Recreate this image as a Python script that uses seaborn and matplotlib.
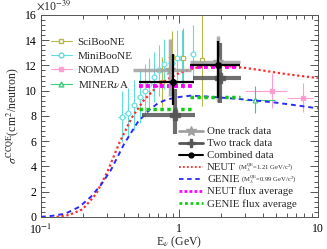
import numpy as np
import pandas as pd
import matplotlib
matplotlib.use('Agg')
import matplotlib.pyplot as plt
from matplotlib.lines import Line2D
from matplotlib.ticker import FixedLocator, MultipleLocator, LogLocator, NullFormatter
import seaborn as sns

# cross sections in units of 1e-39 cm^2/neutron, energies in GeV
neut_e = [0.13, 0.16, 0.2, 0.25, 0.3, 0.37, 0.45, 0.55, 0.7, 0.85, 1.0, 1.3, 1.7, 2.2, 3.0, 4.0, 6.0, 10.0]
neut_xs = [0.0, 0.15, 0.6, 1.8, 3.5, 5.9, 7.8, 9.2, 10.4, 11.0, 11.4, 11.8, 12.0, 11.95, 11.8, 11.6, 11.3, 11.0]
genie_e = [0.1, 0.12, 0.15, 0.19, 0.23, 0.27, 0.32, 0.4, 0.5, 0.61, 0.7, 0.81, 1.0, 1.2, 1.5, 2.0, 3.0, 5.0, 7.4, 10.0]
genie_xs = [0.0, 0.08, 0.25, 0.8, 1.6, 2.5, 3.7, 5.8, 7.5, 8.5, 9.0, 9.3, 9.5, 9.6, 9.55, 9.45, 9.3, 9.05, 8.8, 8.6]

mb_e = [0.385, 0.425, 0.47, 0.52, 0.565, 0.605, 0.655, 0.71, 0.77, 0.88, 0.96, 1.04, 1.25]
mb_xs = [7.95, 8.25, 8.85, 9.5, 10.0, 10.5, 11.1, 11.6, 12.1, 12.2, 12.6, 12.6, 12.9]
mb_err = [2.0, 2.0, 2.0, 2.1, 2.1, 2.1, 2.0, 2.0, 2.0, 2.1, 2.2, 2.2, 2.3]
mb_xerr = [0.025, 0.025, 0.025, 0.025, 0.025, 0.025, 0.025, 0.025, 0.025, 0.05, 0.05, 0.05, 0.05]

sb_e = [0.75, 0.88, 1.06, 1.45]
sb_xs = [10.7, 12.7, 12.6, 12.4]
sb_err = [2.0, 2.0, 2.4, 3.6]
sb_xerr = [0.05, 0.05, 0.05, 0.05]

nomad_e = [4.65, 7.8]
nomad_xs = [10.0, 9.45]
nomad_err = [1.4, 1.15]
nomad_xlo = [1.68, 1.8]
nomad_xhi = [1.32, 1.4]

minerva_e = [3.5]
minerva_xs = [9.3]
minerva_err = [1.1]
minerva_xlo = [0.53]
minerva_xhi = [1.4]

# T2K points
t2k_xlo = [0.39, 0.71]
t2k_xhi = [0.37, 0.84]
one_e = [0.85, 1.90]
one_xs = [11.6, 12.3]
one_lo = [2.0, 3.2]
one_hi = [2.5, 2.0]
two_e = [0.93, 1.96]
two_xs = [8.1, 11.0]
two_lo = [1.5, 2.0]
two_hi = [2.0, 2.8]
comb_e = [0.90, 1.90]
comb_xs = [10.7, 12.0]
comb_lo = [1.8, 2.6]
comb_hi = [2.2, 1.9]

flux_lo = [0.51, 1.19]
flux_hi = [1.26, 2.74]
neut_flux = [10.4, 11.9]
genie_flux = [8.55, 9.5]

sns.set_theme(style="ticks")
plt.rcParams['font.family'] = ['Liberation Serif', 'DejaVu Serif']
plt.rcParams['mathtext.fontset'] = 'stix'

c_sb = '#b8b84a'
c_mb = '#5fdede'
c_nomad = '#ff9ed0'
c_minerva = '#3ccc7a'

fig = plt.figure(figsize=(3.27, 2.49), dpi=100)
ax = fig.add_axes([0.125, 0.129, 0.847, 0.811])

# model curves
curves = pd.concat([
    pd.DataFrame({'E': neut_e, 'xs': neut_xs, 'model': 'NEUT'}),
    pd.DataFrame({'E': genie_e, 'xs': genie_xs, 'model': 'GENIE'}),
])
sns.lineplot(data=curves[curves.model == 'NEUT'], x='E', y='xs', ax=ax, color='#ff2a2a',
             linestyle=(0, (1, 1.2)), linewidth=1.6, zorder=3)
sns.lineplot(data=curves[curves.model == 'GENIE'], x='E', y='xs', ax=ax, color='#2a2aff',
             linestyle=(0, (2.5, 2)), linewidth=1.4, zorder=3)

# other experiments
ax.errorbar(mb_e, mb_xs, yerr=mb_err, xerr=mb_xerr, fmt='o', mfc='white', mec=c_mb, ecolor=c_mb,
            ms=3.5, mew=0.8, elinewidth=0.8, capsize=0, zorder=2)
ax.errorbar(sb_e, sb_xs, yerr=sb_err, xerr=sb_xerr, fmt='s', mfc='white', mec=c_sb, ecolor=c_sb,
            ms=3, mew=0.8, elinewidth=0.8, capsize=0, zorder=2)
ax.errorbar(nomad_e, nomad_xs, yerr=nomad_err, xerr=[nomad_xlo, nomad_xhi], fmt='s', color=c_nomad,
            ms=3, elinewidth=0.8, capsize=0, zorder=2)
ax.errorbar(minerva_e, minerva_xs, yerr=minerva_err, xerr=[minerva_xlo, minerva_xhi], fmt='^', mfc='white',
            mec=c_minerva, ecolor=c_minerva, ms=3.5, mew=0.8, elinewidth=0.8, capsize=0, zorder=2)

# flux averages
ax.hlines(neut_flux, flux_lo, flux_hi, colors='#ff00ff', linestyles=(0, (1, 0.8)), linewidth=2.8, zorder=4)
ax.hlines(genie_flux, flux_lo, flux_hi, colors='#10cc10', linestyles=(0, (1, 1)), linewidth=2.5, zorder=4)

# T2K data
ax.errorbar(one_e, one_xs, yerr=[one_lo, one_hi], xerr=[t2k_xlo, t2k_xhi], fmt='*', color='#a0a0a0',
            ms=8, elinewidth=2.5, capsize=0, alpha=0.85, zorder=5)
ax.errorbar(two_e, two_xs, yerr=[two_lo, two_hi], xerr=[t2k_xlo, t2k_xhi], fmt='P', color='#555555',
            ms=7, elinewidth=3, capsize=0, alpha=0.85, zorder=5)
ax.errorbar(comb_e, comb_xs, yerr=[comb_lo, comb_hi], xerr=[t2k_xlo, t2k_xhi], fmt='o', color='black',
            ms=4, elinewidth=1.6, capsize=0, zorder=6)

ax.set_xscale('log')
ax.set_xlim(0.1, 10)
ax.set_ylim(0, 16)
ax.xaxis.set_major_locator(FixedLocator([0.1, 1, 10]))
ax.set_xticklabels([r'10$^{-1}$', '1', '10'])
ax.xaxis.set_minor_locator(LogLocator(base=10, subs=np.arange(2, 10)))
ax.xaxis.set_minor_formatter(NullFormatter())
ax.yaxis.set_major_locator(MultipleLocator(2))
ax.yaxis.set_minor_locator(MultipleLocator(0.4))
ax.tick_params(which='both', direction='in', top=True, right=True, labelsize=8.5, width=0.7, colors='#555555',
               labelcolor='black')
ax.tick_params(axis='x', pad=4.5)
ax.tick_params(axis='y', pad=3)
ax.tick_params(which='major', length=6)
ax.tick_params(which='minor', length=3)
for s in ax.spines.values():
    s.set_linewidth(0.7)
    s.set_color('#555555')

ax.set_xlabel(r'E$_\nu$ (GeV)', fontsize=8.5, labelpad=-2)
ax.set_ylabel(r'$\sigma^{\rm CCQE}$(cm$^2$/neutron)', fontsize=8.5, labelpad=3)
fig.text(0.11, 0.978, r'$\times$10$^{-39}$', fontsize=8.5, ha='left', va='center')

# legends
h1 = [
    Line2D([], [], color=c_sb, marker='s', mfc='white', mec=c_sb, ms=3, lw=0.8),
    Line2D([], [], color=c_mb, marker='o', mfc='white', mec=c_mb, ms=3.5, lw=0.8),
    Line2D([], [], color=c_nomad, marker='s', ms=3, lw=0.8),
    Line2D([], [], color=c_minerva, marker='^', mfc='white', mec=c_minerva, ms=3.5, lw=0.8),
]
leg1 = ax.legend(h1, ['SciBooNE', 'MiniBooNE', 'NOMAD', r'MINER$\nu$A'], loc='upper left',
                 bbox_to_anchor=(0.02, 0.91), frameon=False, fontsize=8, handlelength=1.9,
                 handletextpad=0.5, labelspacing=0.35, borderaxespad=0)
ax.add_artist(leg1)

h2 = [
    Line2D([], [], color='#a0a0a0', marker='*', ms=7, lw=2),
    Line2D([], [], color='#555555', marker='P', ms=6, lw=2),
    Line2D([], [], color='black', marker='o', ms=3.5, lw=1.5),
    Line2D([], [], color='#ff2a2a', linestyle=(0, (1, 1.2)), lw=1.3),
    Line2D([], [], color='#2a2aff', linestyle=(0, (2.5, 2)), lw=1.3),
    Line2D([], [], color='#ff00ff', linestyle=(0, (1, 0.8)), lw=2),
    Line2D([], [], color='#10cc10', linestyle=(0, (1, 1)), lw=2),
]
labels2 = ['One track data', 'Two track data', 'Combined data', 'NEUT', 'GENIE',
           'NEUT flux average', 'GENIE flux average']
leg2 = ax.legend(h2, labels2, loc='lower right', bbox_to_anchor=(0.94, 0.02), frameon=False, fontsize=7.8,
                 handlelength=2.2, handletextpad=0.4, labelspacing=0.22, borderaxespad=0)

# small model parameter text after NEUT / GENIE labels
fig.canvas.draw()
smalls = {'NEUT': r'(M$_A^{\rm QE}$=1.21 GeV/c$^2$)', 'GENIE': r'(M$_A^{\rm QE}$=0.99 GeV/c$^2$)'}
for t in leg2.get_texts():
    if t.get_text() in smalls:
        bb = t.get_window_extent()
        fig.text(bb.x1 + 1.5, (bb.y0 + bb.y1) / 2 + 0.5, smalls[t.get_text()], transform=None,
                 fontsize=4.8, ha='left', va='center')

fig.savefig('out.png', dpi=100)
